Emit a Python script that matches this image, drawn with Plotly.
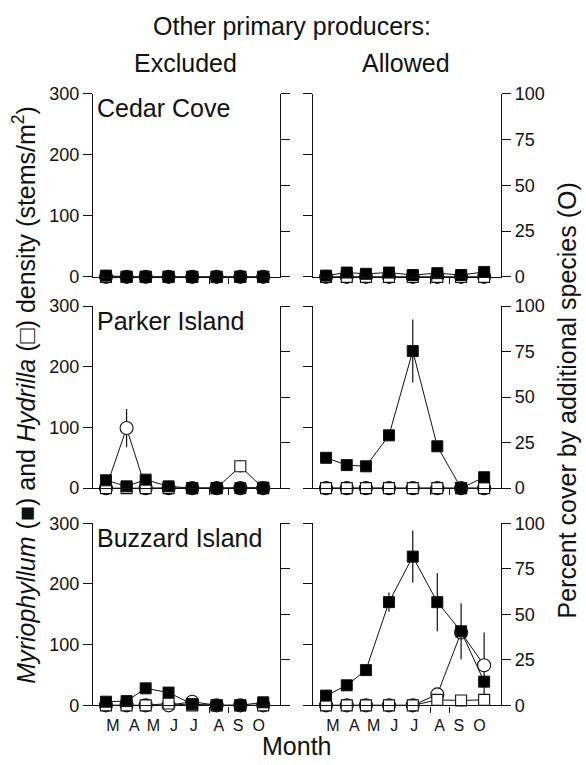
import plotly.graph_objects as go

W, H = 586, 765
FONT = "Liberation Sans, Arial, Helvetica, sans-serif"
INK = "#111111"

# Sampling dates (days after 1 March) and month labels on the time axis
sample_day = [17, 44, 69, 99, 130, 162, 193, 223]
month_pos = [26, 54, 79, 106, 132, 165, 190, 217]
month_labels = ["M", "A", "M", "J", "J", "A", "S", "O"]
extra_ticks = [153, 178]

sites = ["Cedar Cove", "Parker Island", "Buzzard Island"]
treatments = ["Excluded", "Allowed"]

# Myriophyllum density (stems/m2)
cedar_excl_myrio = [2, 0, 0, 0, 0, 0, 0, 0]
cedar_allow_myrio = [2, 7, 5, 7, 3, 6, 3, 8]
parker_excl_myrio = [13, 3, 14, 3, 0, 0, 0, 1]
parker_allow_myrio = [50, 38, 36, 87, 226, 69, 0, 18]
buzzard_excl_myrio = [6, 7, 28, 21, 2, 0, 0, 5]
buzzard_allow_myrio = [16, 33, 58, 170, 245, 170, 122, 39]

parker_allow_myrio_err = [0, 0, 0, 0, 52, 0, 0, 0]
buzzard_allow_myrio_err = [0, 0, 0, 16, 43, 48, 46, 0]

# Hydrilla density (stems/m2)
cedar_excl_hydrilla = [0, 0, 0, 0, 0, 0, 0, 0]
cedar_allow_hydrilla = [0, 0, 0, 0, 0, 0, 0, 0]
parker_excl_hydrilla = [0, 0, 0, 0, 0, 0, 36, 0]
parker_allow_hydrilla = [0, 0, 0, 0, 0, 0, 0, 0]
buzzard_excl_hydrilla = [0, 0, 0, 3, 0, 0, 0, 0]
buzzard_allow_hydrilla = [0, 0, 0, 0, 0, 9, 8, 9]

parker_excl_hydrilla_err = [0, 0, 0, 0, 0, 0, 10, 0]

# Percent cover by additional species
cedar_excl_other = [0, 0, 0, 0, 0, 0, 0, 0]
cedar_allow_other = [0, 0, 0, 0, 0, 0, 0, 0]
parker_excl_other = [0, 33, 0, 0, 0, 0, 0, 0]
parker_allow_other = [0, 0, 0, 0, 0, 0, 0, 0]
buzzard_excl_other = [0, 0, 0, 0, 2, 0, 0, 0]
buzzard_allow_other = [0, 0, 0, 0, 0, 6, 40, 22]

parker_excl_other_err = [0, 10.5, 0, 0, 0, 0, 0, 0]
buzzard_allow_other_err = [0, 0, 0, 0, 0, 0, 0, 18]

zeros = [0] * 8
panels = [
    (cedar_excl_myrio, zeros, cedar_excl_hydrilla, zeros, cedar_excl_other, zeros),
    (cedar_allow_myrio, zeros, cedar_allow_hydrilla, zeros, cedar_allow_other, zeros),
    (parker_excl_myrio, zeros, parker_excl_hydrilla, parker_excl_hydrilla_err,
     parker_excl_other, parker_excl_other_err),
    (parker_allow_myrio, parker_allow_myrio_err, parker_allow_hydrilla, zeros,
     parker_allow_other, zeros),
    (buzzard_excl_myrio, zeros, buzzard_excl_hydrilla, zeros, buzzard_excl_other, zeros),
    (buzzard_allow_myrio, buzzard_allow_myrio_err, buzzard_allow_hydrilla, zeros,
     buzzard_allow_other, buzzard_allow_other_err),
]

# Panel frames in pixels: (left, right) per column, (top, bottom) per row
col_px = [(93, 280), (313, 501)]
row_px = [(86, 274), (304, 491), (527, 714)]


def px(x):
    return x / W


def py(y):
    return 1 - y / H


def err(arr):
    return dict(type="data", array=arr, visible=True, width=0,
                thickness=1.2, color=INK)


fig = go.Figure()
layout = {}

for r in range(3):
    for c in range(2):
        i = r * 2 + c
        xref = "x" if i == 0 else f"x{i + 1}"
        xname = "xaxis" if i == 0 else f"xaxis{i + 1}"
        bidx, oidx = 2 * i + 1, 2 * i + 2
        bref = "y" if bidx == 1 else f"y{bidx}"
        bname = "yaxis" if bidx == 1 else f"yaxis{bidx}"
        oref = f"y{oidx}"
        oname = f"yaxis{oidx}"

        myr, myr_e, hyd, hyd_e, oth, oth_e = panels[i]

        # percent cover (circles) on the base axis, drawn underneath
        fig.add_trace(go.Scatter(
            x=sample_day, y=oth, xaxis=xref, yaxis=bref, mode="lines+markers",
            line=dict(color=INK, width=1), error_y=err(oth_e),
            marker=dict(symbol="circle", size=13, color="white",
                        line=dict(color=INK, width=1.1)),
            cliponaxis=False, showlegend=False))
        # Hydrilla (open squares)
        fig.add_trace(go.Scatter(
            x=sample_day, y=hyd, xaxis=xref, yaxis=oref, mode="lines+markers",
            line=dict(color=INK, width=1), error_y=err(hyd_e),
            marker=dict(symbol="square", size=11, color="white",
                        line=dict(color=INK, width=1.1)),
            cliponaxis=False, showlegend=False))
        # Myriophyllum (filled squares)
        fig.add_trace(go.Scatter(
            x=sample_day, y=myr, xaxis=xref, yaxis=oref, mode="lines+markers",
            line=dict(color=INK, width=1), error_y=err(myr_e),
            marker=dict(symbol="square", size=11, color="black",
                        line=dict(color=INK, width=1)),
            cliponaxis=False, showlegend=False))

        x0, x1 = col_px[c]
        y0, y1 = row_px[r]
        axis_common = dict(showline=True, linecolor=INK, linewidth=1.4,
                           showgrid=False, zeroline=False, ticks="outside",
                           ticklen=9, tickwidth=1.3, tickcolor=INK,
                           tickfont=dict(family=FONT, size=18, color=INK),
                           fixedrange=True)
        layout[xname] = dict(
            domain=[px(x0), px(x1)], range=[0, 245], anchor=bref,
            showline=True, linecolor=INK, linewidth=1.4, showgrid=False,
            zeroline=False, ticks="outside", ticklen=1, tickwidth=1,
            tickcolor="rgba(0,0,0,0)", tickmode="array", tickvals=month_pos,
            ticktext=month_labels, showticklabels=(r == 2),
            ticklabelstandoff=4,
            tickfont=dict(family=FONT, size=16, color=INK),
            minor=dict(tickmode="array", tickvals=extra_ticks, ticks="outside",
                       ticklen=6, tickwidth=1.2, tickcolor=INK, showgrid=False),
            fixedrange=True)
        layout[bname] = dict(
            axis_common, domain=[py(y1), py(y0)], range=[0, 100], anchor=xref,
            side="right", tickmode="array", tickvals=[0, 25, 50, 75, 100],
            showticklabels=(c == 1))
        layout[oname] = dict(
            axis_common, domain=[py(y1), py(y0)], range=[0, 300], anchor=xref,
            overlaying=bref, side="left", tickmode="array",
            tickvals=[0, 100, 200, 300], showticklabels=(c == 0))

annotations = []


def note(text, x, y, size=25, xanchor="center", angle=0):
    annotations.append(dict(
        text=text, x=px(x), y=py(y), xref="paper", yref="paper",
        xanchor=xanchor, yanchor="middle", showarrow=False, textangle=angle,
        font=dict(family=FONT, size=size, color=INK)))


note("Other primary producers:", 292, 16)
note(treatments[0], 185, 54)
note(treatments[1], 406, 54)
for r, site in enumerate(sites):
    note(site, 95, row_px[r][0] + 15, xanchor="left")
note("Month", 296, 756)
note("<i>Myriophyllum</i> (■) and <i>Hydrilla</i> (□) density (stems/m<sup>2</sup>)",
     24, 395, angle=-90)
note("Percent cover by additional species (O)", 567, 401, angle=-90)

fig.update_layout(
    width=W, height=H, margin=dict(l=0, r=0, t=0, b=0),
    paper_bgcolor="white", plot_bgcolor="white", showlegend=False,
    font=dict(family=FONT, color=INK), annotations=annotations, **layout)

fig.write_html("out.html")
